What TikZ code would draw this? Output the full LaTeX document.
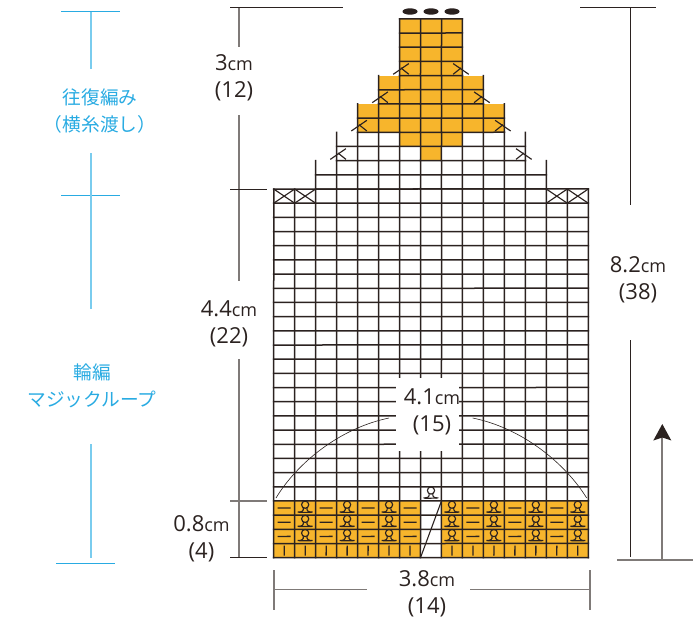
\documentclass[tikz,border=0pt]{standalone}
\usepackage{fontspec}
\setmainfont{Open Sans}
\newfontfamily\jpfont{Noto Sans CJK JP}
\usetikzlibrary{arrows.meta}
\definecolor{ink}{HTML}{2B2220}
\definecolor{dimgray}{HTML}{7F7A78}
\definecolor{yarn}{HTML}{F7B52C}
\definecolor{bluet}{HTML}{29ABE2}
\definecolor{bluel}{HTML}{7ACCEE}
\newcommand\cmt[1]{#1{\fontsize{18}{27}\selectfont cm}}
% grid rules carry a tiny tilt, so that they all keep one weight
\newcommand\hrul[3]{\draw[gridline] (#1,#3) -- ([yshift=.06pt]#2,#3);}
\newcommand\vrul[3]{\draw[gridline] (#1,#2) -- ([xshift=.06pt]#1,#3);}
\newcommand\loopsym[2]{\begin{scope}[shift={(#1+.5,#2+.5)},x=1pt,y=1pt]
  \draw[symline] (0,3.4) circle (3.6);
  \draw[symline] (-7.5,-4) .. controls (-3,-4.2) and (-1.5,-3) .. (-1.8,0.2);
  \draw[symline] (7.5,-4) .. controls (3,-4.2) and (1.5,-3) .. (1.8,0.2);
  \draw[symline] (-6.5,-4.3) -- (6.5,-4.25);
\end{scope}}
\newcommand\dashsym[2]{\draw[markline] ([xshift=-6.5pt]#1+.5,#2+.5) -- ([xshift=6.5pt,yshift=.06pt]#1+.5,#2+.5);}
\newcommand\barsym[2]{\draw[markline] ([yshift=-5pt]#1+.5,#2+.5) -- ([xshift=.06pt,yshift=5pt]#1+.5,#2+.5);}
\newcommand\decl[2]{\begin{scope}[shift={(#1,#2)},x=1pt,y=1pt]
  \draw[symline] (-6.3,1.3) -- (9.3,12); \draw[symline] (1.3,7.7) -- (9.3,1.3);
\end{scope}}
\newcommand\decr[2]{\begin{scope}[shift={(#1+1,#2)},x=-1pt,y=1pt]
  \draw[symline] (-6.3,1.3) -- (9.3,12); \draw[symline] (1.3,7.7) -- (9.3,1.3);
\end{scope}}
\tikzset{
  gridline/.style={ink,line width=1.5pt,line cap=rect},
  symline/.style={ink,line width=1.15pt},
  markline/.style={ink,line width=1.3pt},
  dimdark/.style={ink,line width=.8pt},
  dimgr/.style={dimgray,line width=1.1pt},
  bluehor/.style={bluet,line width=.9pt},
  bluever/.style={bluel,line width=1.3pt},
  dimtext/.style={text=ink,align=center,inner sep=0pt,font=\fontsize{22}{27}\selectfont},
  jptext/.style={text=bluet,align=center,inner sep=0pt,font=\jpfont\fontsize{18.7}{27}\selectfont},
}
\begin{document}
\begin{tikzpicture}[x=1pt,y=-1pt]
\useasboundingbox (0,0) rectangle (695,619);
\begin{scope}[shift={(273.7,557.7)},x=20.97pt,y=14.18pt]
  % yarn-coloured areas
  \fill[yarn] (0,0) rectangle (7,4);
  \fill[yarn] (8,0) rectangle (15,4);
  \fill[yarn] (7,28) rectangle (8,29);
  \fill[yarn] (6,29) rectangle (9,30);
  \fill[yarn] (4,30) rectangle (11,32);
  \fill[yarn] (5,32) rectangle (10,34);
  \fill[yarn] (6,34) rectangle (9,38);
  % grid: horizontals start at row ra of each band, verticals span the band
  \foreach \ra/\rb/\ca in {0/26/0,26/28/2,28/30/3,30/32/4,32/34/5,34/38/6}{
    \pgfmathtruncatemacro\cb{15-\ca}
    \pgfmathtruncatemacro\rl{\rb-1}
    \foreach \r in {\ra,...,\rl}{\hrul{\ca}{\cb}{\r}}
    \foreach \c in {\ca,...,\cb}{\vrul{\c}{\ra}{\rb}}
  }
  \hrul{0}{15}{26}
  \hrul{6}{9}{38}
  % cast-off crosses
  \foreach \c in {0,1,13,14}{\draw[symline] (\c,25) -- (\c+1,26) (\c,26) -- (\c+1,25);}
  % decreases
  \decl{6}{34}\decr{8}{34}
  \decl{5}{32}\decr{9}{32}
  \decl{4}{30}\decr{10}{30}
  \decl{3}{28}\decr{11}{28}
  % stitch symbols
  \foreach \c in {0,...,6,8,9,...,14}{\barsym{\c}{0}}
  \foreach \r in {1,2,3}{
    \foreach \c in {0,2,4,6,9,11,13}{\dashsym{\c}{\r}}
    \foreach \c in {1,3,5,8,10,12,14}{\loopsym{\c}{\r}}
  }
  \loopsym{7}{4}
  \draw[ink,line width=1.1pt] (7,0) -- (8,4);
\end{scope}
% bobbles on top
\foreach \ex in {410,431,452}{\fill[ink!95!black] (\ex,11.5) ellipse (7.5 and 3.2);}
% arc behind width label
\draw[ink,line width=.6pt] (276,498) .. controls (297,463) and (340,428) .. (389,418);
\draw[ink,line width=.6pt] (472.7,418) .. controls (522,428) and (565,463) .. (586.7,498);
\fill[white] (396,378) rectangle (459,451);
% left dimension lines
\coordinate (la) at (239,7.3); \coordinate (lb) at (239,47);
\coordinate (lc) at (239,115); \coordinate (ld) at (239,281);
\coordinate (le) at (239,359); \coordinate (lf) at (239,557.3);
\draw[dimgr] (la) -- (lb) (lc) -- (ld) (le) -- (lf);
\draw[dimdark] (230,7.3) -- (343,7.3);
\draw[dimdark] (230,189) -- (267,189);
\draw[dimgr] (230,501) -- (267,501);
\draw[dimdark] (230,557.3) -- (267,557.3);
% right dimension lines
\draw[dimdark] (580,7.3) -- (656,7.3);
\draw[dimdark] (630.5,7.3) -- (630.5,205) (630.5,340) -- (630.5,557);
\draw[dimgr] (617,560) -- (693,560);
\draw[dimgray,line width=2pt] (662.3,560) -- (662.3,436);
\fill[ink] (662.3,424) -- (671.3,440.5) -- (662.3,437.5) -- (653.3,440.5) -- cycle;
% bottom dimension lines
\draw[dimgr] (274,570) -- (274,610) (590,570) -- (590,610);
\draw[dimgr] (274,589.7) -- (367,589.7) (470,589.7) -- (590,589.7);
% blue lines
\draw[bluehor] (61,11.7) -- (120,11.7) (61,195) -- (120,195) (56,563.3) -- (115,563.3);
\draw[bluever] (91,11.7) -- (91,69) (91,153) -- (91,309) (91,444) -- (91,558);
% labels
\node[dimtext] (t3) at (234,78) {\cmt{3}\\(12)};
\node[dimtext] (t44) at (229,323.5) {\cmt{4.4}\\(22)};
\node[dimtext] (t08) at (201.5,538.5) {\cmt{0.8}\\(4)};
\node[dimtext] (t41) at (432,412) {\cmt{4.1}\\(15)};
\node[dimtext] (t38) at (427,594) {\cmt{3.8}\\(14)};
\node[dimtext] (t82) at (638,280) {\cmt{8.2}\\(38)};
\node[jptext] (j1) at (100,111.5) {往復編み\\（横糸渡し）};
\node[jptext] (j2) at (92,385.5) {輪編\\マジックループ};
\end{tikzpicture}
\end{document}
